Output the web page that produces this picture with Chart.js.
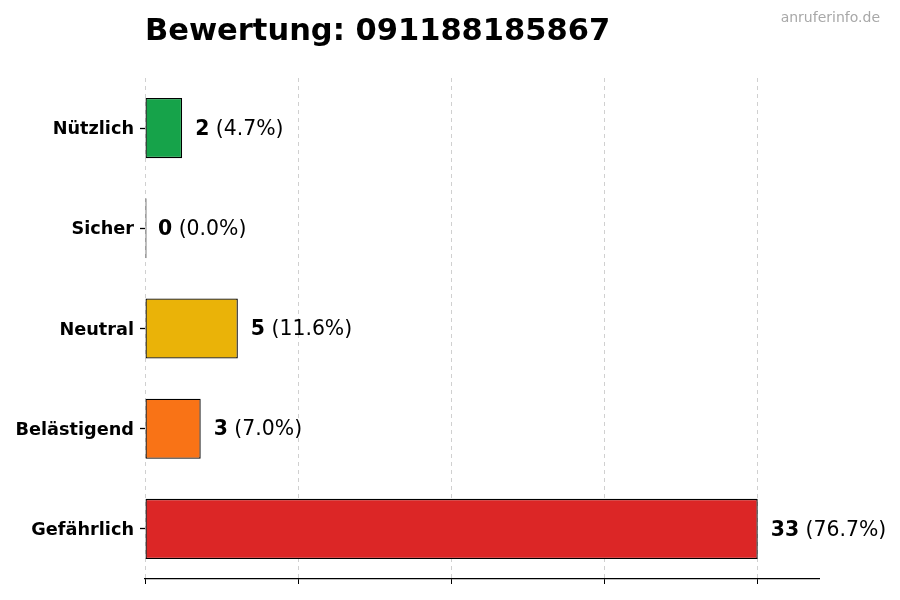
<!DOCTYPE html>
<html>
<head>
<meta charset="utf-8">
<script src="https://cdn.jsdelivr.net/npm/chart.js@4.4.0/dist/chart.umd.min.js"></script>
<style>
  html, body { margin: 0; padding: 0; background: #fff; }
  #wrap { width: 900px; height: 600px; }
</style>
</head>
<body>
<div id="wrap"><canvas id="ratingChart"></canvas></div>
<script>
// Rating counts per category (top to bottom)
const categories = ['Nützlich', 'Sicher', 'Neutral', 'Belästigend', 'Gefährlich'];
const counts = [2, 0, 5, 3, 33];
const barColors = ['#16a34a', '#3b82f6', '#eab308', '#f97316', '#dc2626'];
const xTicks = [0, 8.25, 16.5, 24.75, 33];
const xMax = 36.3;

const chartTitle = 'Bewertung: 091188185867';
const watermark = 'anruferinfo.de';
const FONT = "'DejaVu Sans', sans-serif";

const total = counts.reduce((a, b) => a + b, 0);

// Draws the title, watermark and the "n (x%)" labels next to each bar
const labelPlugin = {
  id: 'barLabels',
  afterDraw(chart) {
    const ctx = chart.ctx;
    const area = chart.chartArea;
    ctx.save();

    ctx.fillStyle = '#000';
    ctx.font = 'bold 30.5px ' + FONT;
    ctx.textAlign = 'left';
    ctx.textBaseline = 'alphabetic';
    ctx.fillText(chartTitle, area.left, 40);

    ctx.fillStyle = '#a8a8a8';
    ctx.font = '14px ' + FONT;
    ctx.textAlign = 'right';
    ctx.fillText(watermark, 880, 22);

    const meta = chart.getDatasetMeta(0);
    const xScale = chart.scales.x;
    ctx.textAlign = 'left';
    ctx.textBaseline = 'middle';
    meta.data.forEach((bar, i) => {
      const x = xScale.getPixelForValue(counts[i]) + 13;
      const y = bar.y + 1.5;
      const num = String(counts[i]);
      const pct = ' (' + (total ? (counts[i] / total * 100) : 0).toFixed(1) + '%)';
      ctx.fillStyle = '#000';
      ctx.font = 'bold 20.4px ' + FONT;
      ctx.fillText(num, x, y);
      const w = ctx.measureText(num).width;
      ctx.font = '20.4px ' + FONT;
      ctx.fillText(pct, x + w, y);
    });
    ctx.restore();
  }
};

new Chart(document.getElementById('ratingChart'), {
  type: 'bar',
  data: {
    labels: categories,
    datasets: [{
      data: counts,
      backgroundColor: barColors,
      borderColor: '#000',
      borderWidth: 1.3,
      borderSkipped: false,
      minBarLength: 1.5,
      barPercentage: 0.6,
      categoryPercentage: 1.0
    }]
  },
  options: {
    indexAxis: 'y',
    responsive: true,
    maintainAspectRatio: false,
    animation: false,
    layout: {
      padding: { top: 78, right: 81, bottom: 0, left: 0 }
    },
    plugins: {
      legend: { display: false },
      title: { display: false },
      tooltip: { enabled: false }
    },
    scales: {
      x: {
        type: 'linear',
        min: 0,
        max: xMax,
        z: 1,
        afterBuildTicks: (scale) => {
          scale.ticks = xTicks.map(v => ({ value: v }));
        },
        afterFit: (scale) => { scale.height = 21; },
        ticks: { display: false },
        grid: {
          color: '#d0d0d0',
          lineWidth: 1,
          drawTicks: true,
          tickLength: 5,
          tickColor: '#000',
          tickWidth: 1
        },
        border: {
          display: true,
          color: '#000',
          width: 1.2,
          dash: [4, 4]
        }
      },
      y: {
        afterFit: (scale) => { scale.width = 145; },
        ticks: {
          color: '#000',
          padding: 6,
          labelOffset: 1.5,
          font: { family: FONT, size: 17.7, weight: 'bold' }
        },
        grid: {
          offset: false,
          drawOnChartArea: false,
          drawTicks: true,
          tickLength: 5,
          tickColor: '#000',
          tickWidth: 1.3
        },
        border: { display: false }
      }
    }
  },
  plugins: [labelPlugin]
});
</script>
</body>
</html>
